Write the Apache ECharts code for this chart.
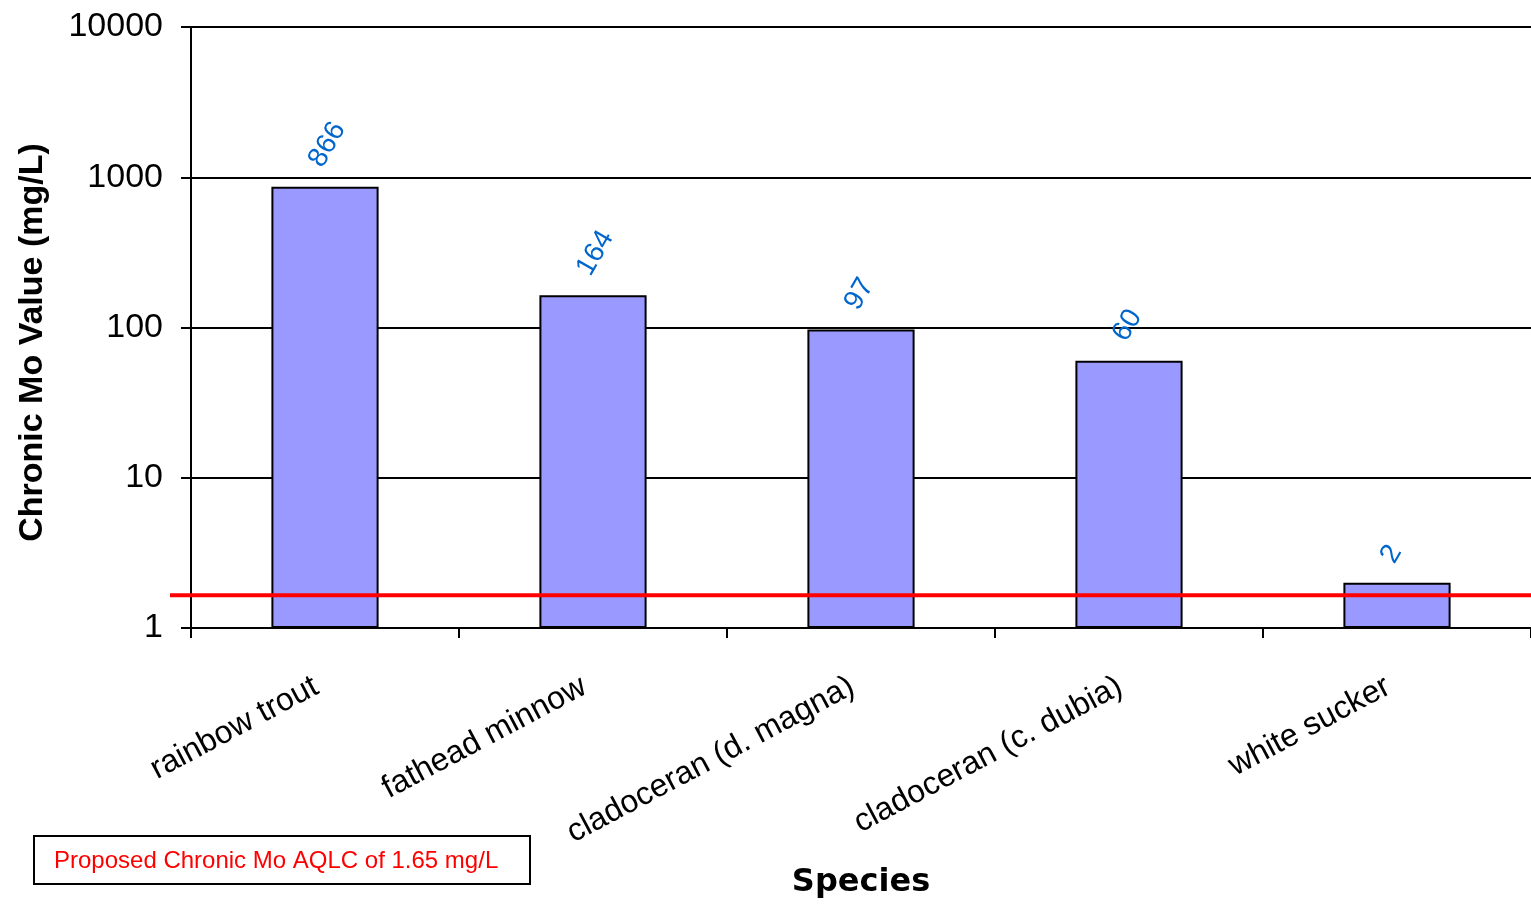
<!DOCTYPE html>
<html>
<head>
<meta charset="utf-8">
<script src="https://cdn.jsdelivr.net/npm/echarts@6/dist/echarts.min.js"></script>
<style>
html,body{margin:0;padding:0;background:#fff;}
#chart{width:1531px;height:904px;}
</style>
</head>
<body>
<div id="chart"></div>
<script>
const categories = ['rainbow trout', 'fathead minnow', 'cladoceran (d. magna)', 'cladoceran (c. dubia)', 'white sucker'];
const values = [866, 164, 97, 60, 2];
const yTicks = [1, 10, 100, 1000, 10000];
const criterion = 1.65;
const criterionText = 'Proposed Chronic Mo AQLC of 1.65 mg/L';

const chart = echarts.init(document.getElementById('chart'));
const option = {
  animation: false,
  grid: { left: 191, top: 27, right: 0, bottom: 276, containLabel: false, outerBoundsMode: 'none' },
  xAxis: {
    type: 'category',
    data: categories,
    name: 'Species',
    nameLocation: 'middle',
    nameGap: 239,
    nameTextStyle: { fontFamily: 'DejaVu Sans', fontWeight: 'bold', fontSize: 32, color: '#000' },
    axisLine: { lineStyle: { color: '#000', width: 2 } },
    axisTick: { show: true, alignWithLabel: false, length: 10, lineStyle: { color: '#000', width: 2 } },
    axisLabel: { rotate: 28, margin: 52, padding: [0, 10, 0, 0], fontFamily: 'Liberation Sans', fontSize: 32, color: '#000', interval: 0 }
  },
  yAxis: {
    type: 'log',
    logBase: 10,
    min: yTicks[0],
    max: yTicks[yTicks.length - 1],
    name: 'Chronic Mo Value (mg/L)',
    nameLocation: 'middle',
    nameGap: 141,
    nameRotate: 90,
    nameTextStyle: { fontFamily: 'Liberation Sans', fontWeight: 'bold', fontSize: 34, color: '#000', padding: [0, 30, 0, 0] },
    axisLine: { show: true, lineStyle: { color: '#000', width: 2 } },
    axisTick: { show: true, length: 10, lineStyle: { color: '#000', width: 2 } },
    axisLabel: { margin: 28, fontFamily: 'Liberation Sans', fontSize: 34, color: '#000',
      formatter: v => String(Math.round(v)) },
    splitLine: { show: true, lineStyle: { color: '#000', width: 2 } }
  },
  series: [{
    type: 'bar',
    data: values,
    barWidth: '40%',
    itemStyle: { color: '#9999ff', borderColor: '#000', borderWidth: 2 },
    label: {
      show: true, position: 'top', distance: 28, rotate: 60, offset: [-10, -5],
      align: 'left', verticalAlign: 'middle',
      fontFamily: 'Liberation Sans', fontSize: 28, color: '#0066cc'
    },
    z: 2
  }]
};
chart.setOption(option);

function addOverlays() {
  const y = chart.convertToPixel({ yAxisIndex: 0 }, criterion);
  chart.setOption({
    graphic: [
      { type: 'line', z: 100, shape: { x1: 170, y1: y, x2: 1531, y2: y }, style: { stroke: '#ff0000', lineWidth: 4 } },
      { type: 'group', left: 33, top: 835, children: [
        { type: 'rect', shape: { x: 0, y: 0, width: 496, height: 48 }, style: { fill: '#fff', stroke: '#000', lineWidth: 2 } },
        { type: 'text', x: 20, y: 25, style: { text: criterionText, fill: '#ff0000', fontFamily: 'Liberation Sans', fontSize: 24, verticalAlign: 'middle' } }
      ] }
    ]
  });
}
addOverlays();
</script>
</body>
</html>
